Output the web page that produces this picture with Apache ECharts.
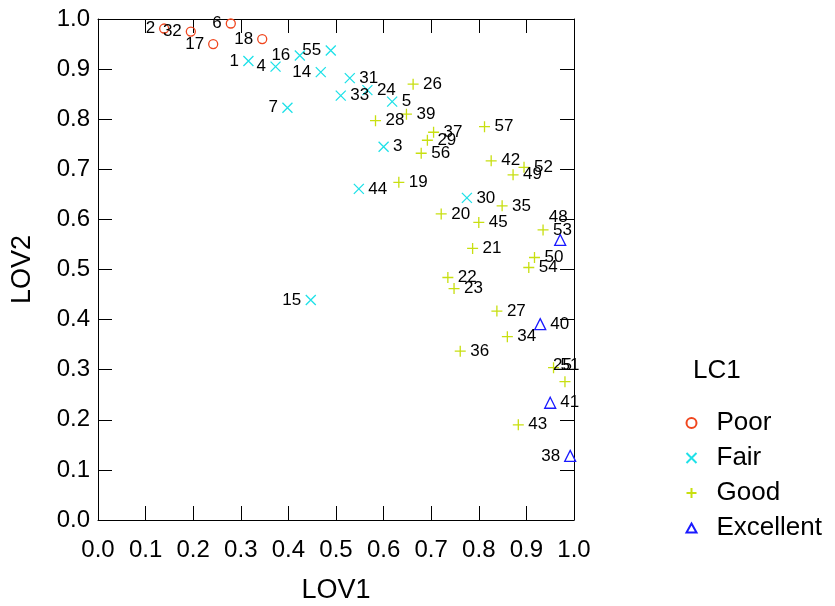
<!DOCTYPE html>
<html>
<head>
<meta charset="utf-8">
<script src="https://cdn.jsdelivr.net/npm/echarts@6/dist/echarts.min.js"></script>
<style>
html,body{margin:0;padding:0;background:#fff;}
#chart{width:835px;height:606px;}
</style>
</head>
<body>
<div id="chart"></div>
<script>
// ---- data ----
var classes = ['Poor', 'Fair', 'Good', 'Excellent'];
var xTicks = [0.0, 0.1, 0.2, 0.3, 0.4, 0.5, 0.6, 0.7, 0.8, 0.9, 1.0];
var yTicks = [0.0, 0.1, 0.2, 0.3, 0.4, 0.5, 0.6, 0.7, 0.8, 0.9, 1.0];

var poorIds  = [2, 32, 6, 17, 18];
var poorLOV1 = [0.139, 0.195, 0.279, 0.242, 0.345];
var poorLOV2 = [0.981, 0.975, 0.991, 0.950, 0.960];

var fairIds  = [1, 4, 16, 55, 14, 7, 31, 33, 24, 5, 3, 44, 30, 15];
var fairLOV1 = [0.316, 0.373, 0.424, 0.489, 0.468, 0.398, 0.529, 0.510, 0.566, 0.618, 0.600, 0.548, 0.775, 0.447];
var fairLOV2 = [0.916, 0.905, 0.927, 0.937, 0.894, 0.823, 0.882, 0.847, 0.858, 0.835, 0.745, 0.661, 0.643, 0.439];

var goodIds  = [26, 39, 28, 37, 29, 56, 19, 57, 42, 52, 49, 35, 20, 45, 53, 21, 50, 54, 22, 23, 27, 34, 36, 25, 51, 43];
var goodLOV1 = [0.662, 0.648, 0.583, 0.705, 0.692, 0.679, 0.632, 0.812, 0.826, 0.895, 0.872, 0.849, 0.721, 0.800, 0.935, 0.787, 0.917, 0.905, 0.735, 0.748, 0.838, 0.860, 0.761, 0.957, 0.981, 0.883];
var goodLOV2 = [0.870, 0.810, 0.797, 0.774, 0.758, 0.732, 0.674, 0.785, 0.717, 0.704, 0.689, 0.627, 0.611, 0.594, 0.579, 0.542, 0.524, 0.504, 0.484, 0.462, 0.417, 0.366, 0.337, 0.304, 0.276, 0.190];

var excIds  = [48, 40, 41, 38];
var excLOV1 = [0.971, 0.929, 0.950, 0.992];
var excLOV2 = [0.559, 0.391, 0.234, 0.128];

// ---- label placement (style): left-side labels and a few nudged ones ----
var leftLabels = [2, 32, 6, 17, 18, 1, 4, 16, 55, 14, 7, 15, 38];
// offset of label's left-middle anchor from the point centre, in px
var labelNudge = { 48: [-9, -20], 51: [-2, -14], 25: [2, 0] };

var colors = { Poor: '#f0461e', Fair: '#1ee1e8', Good: '#c8df10', Excellent: '#1a1aff' };
var symbols = {
  Poor: 'circle',
  Fair: 'path://M0,0L10,10M10,0L0,10',
  Good: 'path://M5,0L5,10M0,5L10,5',
  Excellent: 'path://M5,0L10,9L0,9Z'
};
var sizes = { Poor: 9, Fair: 10, Good: 11, Excellent: 11 };

function buildData(cls, ids, xs, ys) {
  var half = sizes[cls] / 2;
  return ids.map(function (id, i) {
    var item = { value: [xs[i], ys[i], id] };
    var n = labelNudge[id];
    if (n) {
      item.label = { position: [half + n[0], half + n[1]], align: 'left', verticalAlign: 'middle' };
    } else if (leftLabels.indexOf(id) >= 0) {
      item.label = { position: 'left' };
    }
    return item;
  });
}

var seriesData = {
  Poor: buildData('Poor', poorIds, poorLOV1, poorLOV2),
  Fair: buildData('Fair', fairIds, fairLOV1, fairLOV2),
  Good: buildData('Good', goodIds, goodLOV1, goodLOV2),
  Excellent: buildData('Excellent', excIds, excLOV1, excLOV2)
};

var FONT = 'Liberation Sans, Arial, sans-serif';

function fmt(v) { return v.toFixed(1); }

function mkAxis(pos, showLabel, extra) {
  var a = {
    type: 'value', min: 0, max: 1, interval: 0.1, position: pos,
    axisLine: { show: true, onZero: false, lineStyle: { color: '#000', width: 1 } },
    axisTick: { show: true, inside: true, length: 14, lineStyle: { color: '#000', width: 1 } },
    splitLine: { show: false },
    axisLabel: { show: showLabel, color: '#000', fontSize: 24, fontFamily: FONT, formatter: fmt }
  };
  for (var k in extra) a[k] = extra[k];
  return a;
}

var chart = echarts.init(document.getElementById('chart'), null, { renderer: 'canvas' });

var option = {
  animation: false,
  backgroundColor: '#fff',
  title: {
    text: 'LC1', left: 693, top: 358, padding: 0,
    textStyle: { fontSize: 26, fontWeight: 'normal', color: '#000', fontFamily: FONT }
  },
  legend: {
    orient: 'vertical', left: 684, top: 410, padding: 0,
    itemWidth: 10, itemHeight: 10, itemGap: 9,
    data: classes,
    textStyle: { fontSize: 26, lineHeight: 26, color: '#000', fontFamily: FONT, padding: [0, 0, 0, 15] }
  },
  grid: { left: 98, top: 19, width: 476, height: 501, containLabel: false, outerBoundsMode: 'none' },
  xAxis: [
    mkAxis('bottom', true, {
      name: 'LOV1', nameLocation: 'middle', nameGap: 57,
      nameTextStyle: { fontSize: 27, color: '#000', fontFamily: FONT },
      axisLabel: { show: true, color: '#000', fontSize: 24, fontFamily: FONT, margin: 18, formatter: fmt }
    }),
    mkAxis('top', false, {})
  ],
  yAxis: [
    mkAxis('left', true, {
      name: 'LOV2', nameLocation: 'middle', nameGap: 62, nameRotate: 90,
      nameTextStyle: { fontSize: 27, color: '#000', fontFamily: FONT },
      axisLabel: { show: true, color: '#000', fontSize: 24, fontFamily: FONT, margin: 8, formatter: fmt }
    }),
    mkAxis('right', false, {})
  ],
  series: classes.map(function (c) {
    return {
      name: c, type: 'scatter', xAxisIndex: 0, yAxisIndex: 0,
      symbol: symbols[c], symbolSize: sizes[c],
      itemStyle: { color: 'none', borderColor: colors[c], borderWidth: 1.3, opacity: 1 },
      emphasis: { disabled: true },
      label: {
        show: true, position: 'right', distance: 2, color: '#000',
        fontSize: 17, fontFamily: FONT,
        formatter: function (p) { return String(p.value[2]); }
      },
      labelLayout: { hideOverlap: false },
      data: seriesData[c]
    };
  })
};
chart.setOption(option);
</script>
</body>
</html>
